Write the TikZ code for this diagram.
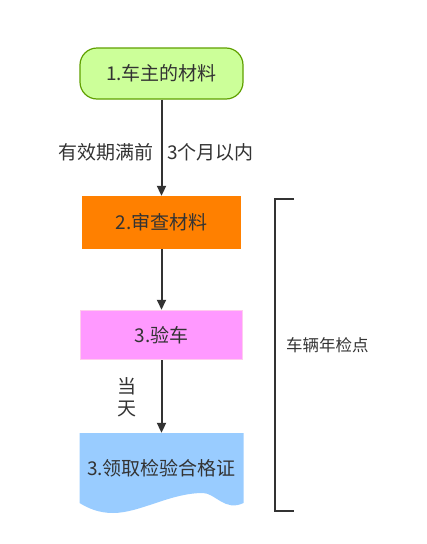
\documentclass[tikz,border=0pt]{standalone}
\usepackage{fontspec}
\setmainfont{Noto Sans CJK SC}
\usetikzlibrary{arrows.meta}
\definecolor{txt}{HTML}{333333}
\definecolor{gfill}{HTML}{CCFF99}
\definecolor{gline}{HTML}{5FA000}
\definecolor{ofill}{HTML}{FF8000}
\definecolor{pfill}{HTML}{FF99FF}
\definecolor{pline}{HTML}{FFCCEE}
\definecolor{bfill}{HTML}{99CCFF}
\tikzset{
  lbl/.style={text=txt,font=\fontsize{19}{22}\selectfont,inner sep=0pt},
  box/.style={lbl,minimum width=162pt,minimum height=52pt},
  conn/.style={draw=txt,line width=2pt,-{Triangle[length=10pt,width=9pt]}},
}
\begin{document}
\begin{tikzpicture}[x=1pt,y=-1pt]
\useasboundingbox (0,0) rectangle (427,544);
\fill[bfill] (79.5,433) -- (243.5,433) -- (243.5,503)
  .. controls (225,512) and (215,493) .. (203,493)
  .. controls (170,493) and (140,513) .. (113,513)
  .. controls (98,513) and (88,508) .. (79.5,503) -- cycle;
\node[box,draw=gline,line width=1.2pt,fill=gfill,rounded corners=17pt,minimum width=163pt,minimum height=51pt] (n1) at (161.5,73.5) {1.车主的材料};
\node[box,fill=ofill,minimum width=159pt,minimum height=53pt] (n2) at (161.5,222.5) {2.审查材料};
\node[box,draw=pline,line width=1.5pt,fill=pfill,minimum width=162pt,minimum height=49pt] (n3) at (161.5,335) {3.验车};
\node[box,minimum width=164pt,minimum height=70pt] (n4) at (161.5,468) {3.领取检验合格证};
\draw[conn] (n1) -- (n2);
\draw[conn] (n2) -- (n3);
\draw[conn] (n3) -- (n4.north);
\node[lbl,anchor=east] (l1a) at (154,152) {有效期满前};
\node[lbl,anchor=west] (l1b) at (167,152) {3个月以内};
\node[lbl,align=center] (l2) at (127,397) {当\\[0pt]天};
\coordinate (b1) at (294,199);
\coordinate (b2) at (294,511);
\draw[txt,line width=1.8pt] (b1) -- (275,199) -- (275,511) -- (b2);
\node[lbl,font=\fontsize{16.5}{19}\selectfont,anchor=west] (l3) at (286,345) {车辆年检点};
\end{tikzpicture}
\end{document}
